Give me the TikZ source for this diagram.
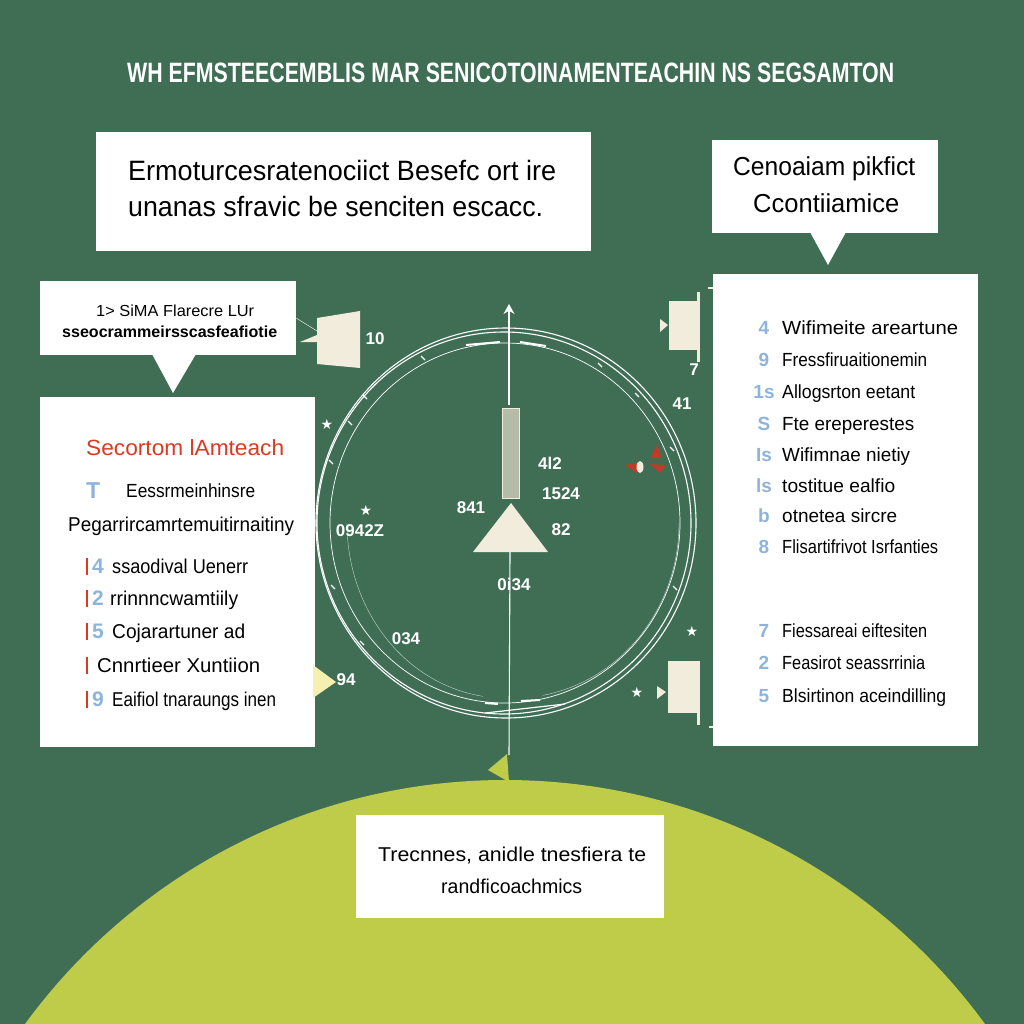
\documentclass[tikz,border=0pt]{standalone}
\usepackage{fontspec}
\setmainfont{Liberation Sans}
\newfontfamily\starfont{DejaVu Sans}
\usepackage{graphicx}
\usetikzlibrary{arrows.meta}

\definecolor{pagegreen}{HTML}{3F6E55}
\definecolor{hillgreen}{HTML}{BFCC4A}
\definecolor{creamfill}{HTML}{F2ECDC}
\definecolor{stemgray}{HTML}{B6BAA9}
\definecolor{numblue}{HTML}{8FB4DC}
\definecolor{headred}{HTML}{DB3A22}
\definecolor{markred}{HTML}{BE3B2A}

\newcommand{\fitlabel}[2]{\resizebox{#1pt}{\height}{#2}}
\newcommand{\pxfont}[1]{\fontsize{#1}{#1}\selectfont}

\tikzset{
    whitebox/.style={fill=white,inner sep=0pt,anchor=north west},
    linetext/.style={anchor=base west,inner sep=0pt,text=black},
    ringline/.style={draw=white,line width=1.1pt},
    ringtick/.style={draw=white,line width=2pt},
    sharplabel/.style={text=white,font=\bfseries\pxfont{17},inner sep=0pt},
    starmark/.style={text=white,font=\starfont\pxfont{14},inner sep=0pt},
    creambox/.style={fill=creamfill,inner sep=0pt,anchor=north west},
}

\begin{document}
\begin{tikzpicture}[x=1pt,y=-1pt]
    \useasboundingbox (0,0) rectangle (1024,1024);
    \fill[pagegreen] (0,0) rectangle (1024,1024);

    % hill
    \begin{scope}
    \clip (0,0) rectangle (1024,1024);
    \fill[hillgreen] (505,1374) circle (594);
    \end{scope}
    \fill[hillgreen] (488,770) -- (507,754) -- (509,782) -- cycle;

    % title
    \node[linetext,text=white,font=\bfseries\pxfont{28}] (title) at (127,83) {\fitlabel{767}{WH EFMSTEECEMBLIS MAR SENICOTOINAMENTEACHIN NS SEGSAMTON}};

    % rings
    \draw[ringline] (506,523) ellipse (190 and 195);
    \draw[ringline] (504,523) ellipse (187 and 191);
    \draw[ringline,line width=0.7pt] (505,523) ellipse (175 and 180);
    \draw[draw=white,line width=0.4pt,opacity=0.7] (347,523) arc[start angle=180,end angle=98,x radius=158,y radius=175];
    \draw[draw=white,line width=0.4pt,opacity=0.7] (679,523) arc[start angle=0,end angle=80,x radius=165,y radius=175];
    \draw[ringtick] (466,345) -- (500,342);
    \draw[ringtick] (520,342) -- (546,346);
    \draw[ringtick] (485,703) -- (498,704);
    \draw[ringtick] (521,701) -- (540,700);
    \draw[ringtick,line width=1.2pt] (485,713) -- (565,704);
    \foreach \tickx/\ticky in {600/365,637/395,672/449,675/588,362/643,333/587,331/462,350/423,365/397,423/358}{
        \draw[ringtick,line width=1.2pt] (\tickx-2,\ticky-2) -- (\tickx+2,\ticky+2);
    }

    % stem and triangle
    \coordinate (axistop) at (509,304);
    \coordinate (hilltop) at (509,755);
    \node[fill=stemgray,draw=creamfill,line width=0.8pt,minimum width=17pt,minimum height=90pt,inner sep=0pt] (stem) at (510.5,453) {};
    \fill[creamfill] (511,503) -- (548,552) -- (473,552) -- cycle;
    \coordinate (triangle) at (510,552);
    \draw[white,line width=1.1pt,-{Stealth[length=10pt,width=11pt]}] (stem.north) ++(-1.5,-3) -- (axistop);
    \draw[white,line width=1.1pt] (triangle) -- (hilltop);

    % red marks
    \fill[markred] (657,445) -- (662,458) -- (650,458) -- cycle;
    \fill[markred] (625,465) -- (637,463) -- (637,473) -- cycle;
    \fill[markred] (650,464) -- (667,465) -- (660,473) -- cycle;
    \fill[creamfill] (640,467) ellipse (3.5 and 6);

    % numbers round the ring
    \node[sharplabel] (n1) at (375,339) {10};
    \node[sharplabel] (n2) at (550,463) {4l2};
    \node[sharplabel] (n3) at (561,494) {1524};
    \node[sharplabel] (n4) at (471,508) {841};
    \node[sharplabel] (n5) at (561,530) {82};
    \node[sharplabel] (n6) at (360,531) {0942Z};
    \node[sharplabel] (n7) at (514,584) {0i34};
    \node[sharplabel] (n8) at (406,639) {034};
    \node[sharplabel] (n9) at (346,680) {94};
    \node[sharplabel] (n10) at (682,404) {41};
    \node[sharplabel] (n11) at (694,370) {7};
    \node[starmark] (s1) at (366,510) {★};
    \node[starmark] (s2) at (327,424) {★};
    \node[starmark] (s3) at (692,631) {★};
    \node[starmark] (s4) at (637,692) {★};

    % callout top left
    \node[whitebox,minimum width=495pt,minimum height=119pt] (calloutA) at (96,132) {};
    \node[linetext,font=\pxfont{28}] (a1) at (128,181) {\fitlabel{428}{Ermoturcesratenociict Besefc ort ire}};
    \node[linetext,font=\pxfont{28}] (a2) at (128,217) {\fitlabel{415}{unanas sfravic be senciten escacc.}};

    % callout top right
    \node[whitebox,minimum width=226pt,minimum height=93pt] (calloutB) at (712,140) {};
    \fill[white] (810,232) -- (828,265) -- (846,232) -- cycle;
    \node[linetext,font=\pxfont{26}] (b1) at (733,176) {\fitlabel{182}{Cenoaiam pikfict}};
    \node[linetext,font=\pxfont{26}] (b2) at (753,213) {\fitlabel{146}{Ccontiiamice}};

    % callout left
    \node[whitebox,minimum width=256pt,minimum height=74pt] (calloutC) at (40,281) {};
    \fill[white] (152,354) -- (173,393) -- (196,354) -- cycle;
    \node[linetext,font=\pxfont{16}] (c1) at (96,316) {\fitlabel{158}{1> SiMA Flarecre LUr}};
    \node[linetext,font=\bfseries\pxfont{16}] (c2) at (62,337) {\fitlabel{215}{sseocrammeirsscasfeafiotie}};

    % flag next to callout left
    \fill[creamfill] (317,318) -- (360,311) -- (360,368) -- (317,364) -- (317,342) -- (300,342) -- (317,335) -- cycle;
    \coordinate (flag) at (317,331);
    \draw[white,line width=0.4pt] (calloutC.east) -- (flag);

    % left panel
    \node[whitebox,minimum width=275pt,minimum height=350pt] (panelL) at (40,397) {};
    \fill[creamfill!80!yellow] (313,665) -- (336,682) -- (313,698) -- cycle;
    \node[linetext,text=headred,font=\pxfont{22}] (l0) at (86,455) {\fitlabel{198}{Secortom lAmteach}};
    \node[linetext,text=numblue,font=\bfseries\pxfont{23}] (l1n) at (86,498) {T};
    \node[linetext,font=\pxfont{19}] (l1) at (126,497) {\fitlabel{129}{Eessrmeinhinsre}};
    \node[linetext,font=\pxfont{20}] (l2) at (68,531) {\fitlabel{226}{Pegarrircamrtemuitirnaitiny}};
    \foreach \rowy/\rowx/\roww/\rownum/\rowtext in {
        573/112/136/4/ssaodival Uenerr,
        605/110/128/2/rrinnncwamtiily,
        638/112/133/5/Cojarartuner ad,
        672/97/163//Cnnrtieer Xuntiion,
        706/112/164/9/Eaifiol tnaraungs inen}{
        \fill[headred] (85.5,\rowy-15) rectangle (87.5,\rowy+2);
        \node[linetext,text=numblue,font=\bfseries\pxfont{21}] (num\rowy) at (92,\rowy) {\rownum};
        \node[linetext,font=\pxfont{20}] (row\rowy) at (\rowx,\rowy) {\fitlabel{\roww}{\rowtext}};
    }

    % right panel
    \node[whitebox,minimum width=265pt,minimum height=472pt] (panelR) at (713,274) {};
    \foreach \rowy/\roww/\rownum/\rowtext in {
        334/176/4/Wifimeite areartune,
        366/145/9/Fressfiruaitionemin,
        398/133/1s/Allogsrton eetant,
        430/132/S/Fte ereperestes,
        461/128/Is/Wifimnae nietiy,
        492/113/ls/tostitue ealfio,
        522/115/b/otnetea sircre,
        553/156/8/Flisartifrivot Isrfanties,
        637/145/7/Fiessareai eiftesiten,
        669/143/2/Feasirot seassrrinia,
        702/164/5/Blsirtinon aceindilling}{
        \node[anchor=base,inner sep=0pt,text=numblue,font=\bfseries\pxfont{19}] (num\rowy) at (764,\rowy) {\rownum};
        \node[linetext,font=\pxfont{19}] (row\rowy) at (782,\rowy) {\fitlabel{\roww}{\rowtext}};
    }

    % square markers on the right
    \node[creambox,minimum width=28pt,minimum height=49pt] (markA) at (669,301) {};
    \node[creambox,minimum width=32pt,minimum height=52pt] (markB) at (668,661) {};
    \fill[creamfill] (660,319) -- (668,325) -- (660,332) -- cycle;
    \fill[creamfill] (657,686) -- (666,692) -- (657,699) -- cycle;
    \fill[creamfill] (697,292) rectangle (700,362);
    \fill[creamfill] (696.5,713) rectangle (699.5,725);
    \draw[creamfill,line width=1.2pt] (708,288) -- (713,288);
    \draw[creamfill,line width=1.2pt] (709,727) -- (713,727);

    % callout bottom
    \node[whitebox,minimum width=308pt,minimum height=103pt] (calloutE) at (356,815) {};
    \node[linetext,font=\pxfont{20}] (e1) at (378,861) {\fitlabel{268}{Trecnnes, anidle tnesfiera te}};
    \node[linetext,font=\pxfont{20}] (e2) at (441,893) {\fitlabel{141}{randficoachmics}};
\end{tikzpicture}
\end{document}
